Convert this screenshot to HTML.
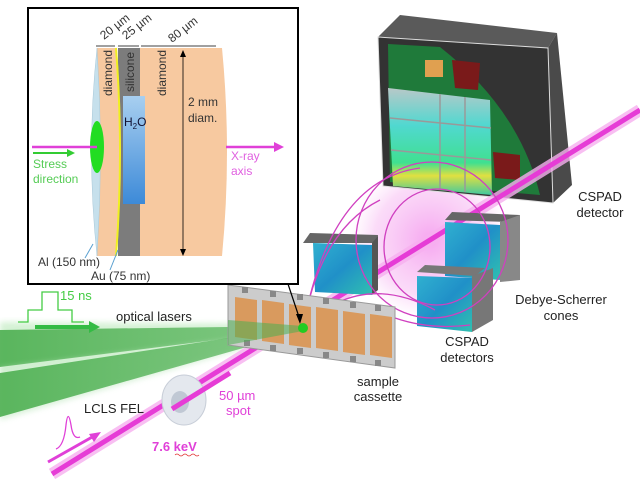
<!DOCTYPE html>
<html><head><meta charset="utf-8"><style>
html,body{margin:0;padding:0;background:#fff}
svg{display:block}
text{font-family:"Liberation Sans",Arial,sans-serif}
</style></head><body>
<svg width="640" height="479" viewBox="0 0 640 479" xmlns="http://www.w3.org/2000/svg">
<defs>
<radialGradient id="glow" cx="0.5" cy="0.5" r="0.5"><stop offset="0" stop-color="#f59cee" stop-opacity="0.9"/><stop offset="0.7" stop-color="#f8c4f4" stop-opacity="0.6"/><stop offset="1" stop-color="#fbd6f7" stop-opacity="0"/></radialGradient>
<linearGradient id="sens" x1="0" y1="0" x2="0" y2="1"><stop offset="0" stop-color="#b8c8c8"/><stop offset="0.35" stop-color="#50d8d0"/><stop offset="0.7" stop-color="#40e090"/><stop offset="0.82" stop-color="#e0e040"/><stop offset="1" stop-color="#40c8a0"/></linearGradient>
<linearGradient id="cube" x1="0" y1="0" x2="1" y2="1"><stop offset="0" stop-color="#30b0d0"/><stop offset="0.5" stop-color="#2090c8"/><stop offset="1" stop-color="#30c0b0"/></linearGradient>
<linearGradient id="h2o" x1="0" y1="0" x2="0" y2="1"><stop offset="0" stop-color="#a8cff0"/><stop offset="1" stop-color="#3d8ad8"/></linearGradient>
<linearGradient id="beamg" x1="0" y1="0" x2="1" y2="0"><stop offset="0" stop-color="#4caf50" stop-opacity="0.9"/><stop offset="1" stop-color="#4caf50" stop-opacity="0.6"/></linearGradient>
<filter id="blur"><feGaussianBlur stdDeviation="3"/></filter>
</defs>

<!-- glow -->
<ellipse cx="430" cy="240" rx="80" ry="80" fill="url(#glow)"/>

<!-- green laser beams -->
<polygon points="0,322 0,372 303,332 303,324" fill="#b8e8b8" opacity="0.6" filter="url(#blur)"/>
<polygon points="0,330 0,367 303,329 303,326" fill="url(#beamg)"/>
<polygon points="0,368 0,420 303,331" fill="#bfe8bf" opacity="0.6" filter="url(#blur)"/>
<polygon points="0,373 0,417 303,331 300,327" fill="url(#beamg)"/>

<!-- top detector -->
<polygon points="378,37 400,15 557,33 548,48" fill="#5a5a5a"/>
<polygon points="548,48 557,33 572,185 553,203" fill="#4a4a4a"/>
<polygon points="378,37 548,48 553,203 383,186" fill="#333"/>
<polygon points="378,37 548,48 553,203 383,186" fill="none" stroke="#ddd" stroke-width="1"/>
<path d="M388,44 L440,47 Q520,110 540,195 L390,182 Z" fill="#1f7a3a"/>
<rect x="425" y="60" width="18" height="17" fill="#e0a050"/>
<polygon points="452,60 480,63 478,90 455,88" fill="#7a1a1a"/>
<polygon points="493,152 520,155 520,180 495,178" fill="#7a1a1a"/>
<polygon points="388,88 490,100 492,195 393,186" fill="url(#sens)"/>
<g stroke="#999" stroke-width="1.5" fill="none"><path d="M440,94 V190 M465,97 V192 M390,118 L491,128 M391,150 L491,160"/></g>

<!-- magenta beam -->
<line x1="52" y1="474" x2="640" y2="110" stroke="#f7b0f0" stroke-width="12" opacity="0.8"/>
<line x1="52" y1="474" x2="640" y2="110" stroke="#e63cd6" stroke-width="5"/>

<!-- left detector near cassette -->
<polygon points="303,243 310,233 378,235 377,243" fill="#666"/>
<polygon points="313,243 372,245 372,295 315,292" fill="url(#cube)"/>
<polygon points="372,243 378,236 378,290 372,295" fill="#555"/>
<!-- upper-right cube -->
<polygon points="445,220 452,212 520,215 510,222" fill="#666"/>
<polygon points="445,222 500,225 500,280 445,276" fill="url(#cube)"/>
<polygon points="500,222 520,215 520,280 500,282" fill="#888"/>
<!-- lower-left cube -->
<polygon points="417,272 425,265 485,268 475,276" fill="#777"/>
<polygon points="417,276 472,278 472,332 417,326" fill="url(#cube)"/>
<polygon points="472,276 493,268 493,320 472,332" fill="#777"/>

<!-- rings -->
<g fill="none" stroke="#d040c0" stroke-width="1.3">
<ellipse cx="432" cy="240" rx="76" ry="78"/>
<ellipse cx="437" cy="247" rx="53" ry="58"/>
<path d="M303,328 Q330,180 420,168"/>
<path d="M303,328 Q320,230 380,200"/>
<path d="M303,328 Q360,270 435,310"/>
<path d="M395,318 Q430,330 470,325"/>
</g>

<!-- cassette -->
<polygon points="228,285 395,307 395,368 228,345" fill="#ccc" stroke="#999"/>
<g fill="#d99a5e">
<polygon points="235,297 257,300 257,340 235,337"/>
<polygon points="262,300 284,303 284,344 262,341"/>
<polygon points="289,304 311,307 311,348 289,345"/>
<polygon points="316,307 338,310 338,351 316,348"/>
<polygon points="343,311 365,314 365,355 343,352"/>
<polygon points="370,314 392,317 392,358 370,355"/>
</g>
<g fill="#888"><rect x="242" y="287" width="6" height="6"/><rect x="270" y="291" width="6" height="6"/><rect x="297" y="294" width="6" height="6"/><rect x="323" y="298" width="6" height="6"/><rect x="350" y="302" width="6" height="6"/><rect x="375" y="305" width="6" height="6"/>
<rect x="244" y="340" width="6" height="6"/><rect x="270" y="345" width="6" height="6"/><rect x="297" y="348" width="6" height="6"/><rect x="323" y="352" width="6" height="6"/><rect x="350" y="356" width="6" height="6"/><rect x="375" y="360" width="6" height="6"/></g>
<polygon points="228,320 303,326 303,331 228,345" fill="#4caf50" opacity="0.55"/>
<circle cx="303" cy="328" r="5" fill="#22cc22"/>

<!-- lens -->
<ellipse cx="184" cy="400" rx="22" ry="25" fill="#e4e8ee" stroke="#c8ced8"/>
<ellipse cx="180" cy="402" rx="9" ry="11" fill="#c0c8d4"/>
<line x1="172" y1="409" x2="230" y2="373" stroke="#e63cd6" stroke-width="5"/>

<!-- inset box -->
<rect x="28" y="8" width="270" height="276" fill="#fff" stroke="#000" stroke-width="2"/>
<line x1="288" y1="284" x2="300" y2="320" stroke="#000" stroke-width="1.2"/>
<polygon points="300,324 296,314 303,314" fill="#000"/>
<!-- disk -->
<path d="M140,48 L222,48 Q232,152 222,256 L140,256 Z" fill="#f7c9a0"/>
<rect x="118" y="48" width="22" height="208" fill="#7c7c7c"/>
<rect x="123" y="96" width="22" height="108" fill="url(#h2o)"/>
<path d="M97,48 L117,48 Q124,152 117,256 L97,256 Z" fill="#f7c9a0"/>
<path d="M116,48 Q124,152 116,256" stroke="#f0f020" stroke-width="2" fill="none"/>
<path d="M97,48 Q86,152 97,256 Q104,152 97,48 Z" fill="#c6e0ec" stroke="#a8c8d8" stroke-width="0.5"/>
<ellipse cx="97" cy="147" rx="7" ry="26" fill="#22dd22"/>
<line x1="32" y1="147" x2="97" y2="147" stroke="#e040d8" stroke-width="2.5"/>
<line x1="226" y1="147" x2="276" y2="147" stroke="#e040d8" stroke-width="2.5"/>
<polygon points="284,147 274,142 274,152" fill="#e040d8"/>
<line x1="33" y1="153" x2="68" y2="153" stroke="#33cc33" stroke-width="2"/>
<polygon points="75,153 67,149 67,157" fill="#33cc33"/>
<g stroke="#000" stroke-width="0.8">
<line x1="96" y1="46" x2="115" y2="46"/><line x1="118" y1="46" x2="139" y2="46"/><line x1="141" y1="46" x2="216" y2="46"/>
<line x1="183" y1="52" x2="183" y2="254"/></g>
<g fill="#000"><polygon points="183,50 180,57 186,57"/><polygon points="183,256 180,249 186,249"/></g>
<g font-size="12" fill="#333">
<text transform="translate(104,40) rotate(-38)">20 µm</text>
<text transform="translate(126,40) rotate(-38)">25 µm</text>
<text transform="translate(172,43) rotate(-38)">80 µm</text>
<text transform="translate(112,96) rotate(-90)">diamond</text>
<text transform="translate(134,92) rotate(-90)">silicone</text>
<text transform="translate(166,96) rotate(-90)">diamond</text>
<text x="188" y="106">2 mm</text><text x="188" y="122">diam.</text>
<text x="124" y="126" fill="#113">H<tspan font-size="8" dy="3">2</tspan><tspan dy="-3">O</tspan></text>
<text x="38" y="266">Al (150 nm)</text><text x="91" y="280">Au (75 nm)</text>
</g>
<text x="33" y="168" font-size="12" fill="#55cc55">Stress</text>
<text x="33" y="183" font-size="12" fill="#55cc55">direction</text>
<text x="231" y="160" font-size="12" fill="#e060e0">X-ray</text>
<text x="231" y="175" font-size="12" fill="#e060e0">axis</text>
<line x1="93" y1="244" x2="85" y2="258" stroke="#5aa0d0"/>
<line x1="118" y1="250" x2="110" y2="270" stroke="#5aa0d0"/>

<!-- optical pulse -->
<polyline points="18,322 28,322 28,310 42,310 42,292 58,292 58,310 72,310 72,322 84,322" fill="none" stroke="#44cc44" stroke-width="1.3"/>
<text x="60" y="300" font-size="13" fill="#44cc44">15 ns</text>
<line x1="35" y1="327" x2="90" y2="327" stroke="#33bb44" stroke-width="4"/>
<polygon points="100,327 89,321 89,333" fill="#33bb44"/>
<text x="116" y="321" font-size="13" fill="#222">optical lasers</text>

<!-- FEL pulse -->
<path d="M56,449 Q64,446 66,425 Q68,408 71,425 Q73,440 80,437" fill="none" stroke="#e040d8" stroke-width="1.3"/>
<line x1="48" y1="462" x2="94" y2="436" stroke="#e040d8" stroke-width="3"/>
<polygon points="101,432 89,434 94,442" fill="#e040d8"/>
<text x="84" y="413" font-size="13" fill="#222">LCLS FEL</text>
<text x="152" y="451" font-size="13" font-weight="bold" fill="#e040d8">7.6 keV</text>
<path d="M175,455 q2,-2 4,0 t4,0 t4,0 t4,0 t4,0 t4,0" stroke="#e03030" stroke-width="0.8" fill="none"/>
<text x="219" y="400" font-size="13" fill="#e040d8">50 µm</text>
<text x="226" y="415" font-size="13" fill="#e040d8">spot</text>

<g font-size="13" fill="#222" text-anchor="middle">
<text x="378" y="386">sample</text><text x="378" y="401">cassette</text>
<text x="467" y="346">CSPAD</text><text x="467" y="362">detectors</text>
<text x="561" y="304">Debye-Scherrer</text><text x="561" y="320">cones</text>
<text x="600" y="201">CSPAD</text><text x="600" y="217">detector</text>
</g>
</svg>
</body></html>
